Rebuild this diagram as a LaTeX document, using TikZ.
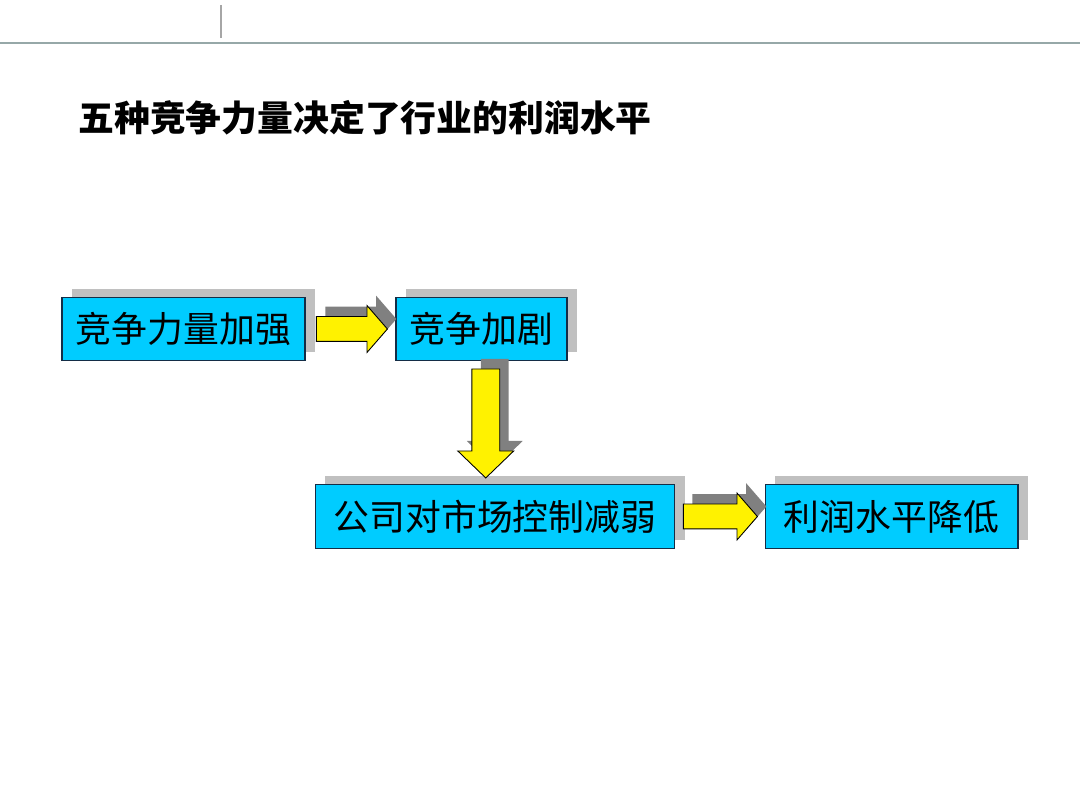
\documentclass[tikz,border=0pt]{standalone}
\usepackage{fontspec}
\newfontfamily\cjk{Noto Sans CJK SC}
\usetikzlibrary{shapes.arrows,shadows,calc}
\definecolor{boxcyan}{RGB}{0,204,255}
\definecolor{boxline}{RGB}{20,45,70}
\definecolor{boxshade}{RGB}{192,192,192}
\definecolor{arrowshade}{RGB}{128,128,128}
\definecolor{rulegray}{RGB}{150,168,168}
\tikzset{
  stage/.style={draw=boxline, fill=boxcyan, line width=0.6pt, inner sep=0pt,
    minimum height=1.27cm, font=\cjk\fontsize{20.4}{24}\selectfont,
    general shadow={fill=boxshade, shadow xshift=0.2cm, shadow yshift=0.17cm}},
  fatarrow/.style={single arrow, draw=black, fill=yellow, line width=0.5pt,
    general shadow={fill=arrowshade, shadow xshift=0.18cm, shadow yshift=0.2cm}}
}
\begin{document}
\begin{tikzpicture}[x=0.02cm,y=-0.02cm]
  \useasboundingbox (0,0) rectangle (1080,810);
  \draw[rulegray, line width=0.8pt] (0,43) -- (1080,43);
  \draw[gray!70, line width=0.6pt] (221,5) -- (221,38);
  \node[anchor=west, inner sep=0pt, font=\cjk\bfseries\fontsize{20.4}{24}\selectfont] (title) at (78,118) {五种竞争力量决定了行业的利润水平};

  \node[stage, minimum width=4.86cm] (force) at (183.5,329) {竞争力量加强};
  \node[stage, minimum width=3.42cm] (rivalry) at (481.5,329) {竞争加剧};
  \node[stage, minimum width=7.2cm] (control) at (495,516.5) {公司对市场控制减弱};
  \node[stage, minimum width=5.06cm] (profit) at (891.5,516.5) {利润水平降低};

  \node[fatarrow, inner sep=0.24cm, minimum height=1.42cm, single arrow head extend=0.22cm,
    single arrow tip angle=98, xshift=-0.08cm] (a1) at ($(force.east)!0.5!(rivalry.west)$) {};
  \node[fatarrow, inner sep=0.27cm, minimum height=2.18cm, single arrow head extend=0.28cm,
    single arrow tip angle=92, shape border rotate=270, xshift=-0.05cm, yshift=0.12cm] (a2) at ($(rivalry.south)!0.5!(control.north)$) {};
  \node[fatarrow, inner sep=0.24cm, minimum height=1.48cm, single arrow head extend=0.22cm,
    single arrow tip angle=98, xshift=-0.1cm] (a3) at ($(control.east)!0.5!(profit.west)$) {};
\end{tikzpicture}
\end{document}
